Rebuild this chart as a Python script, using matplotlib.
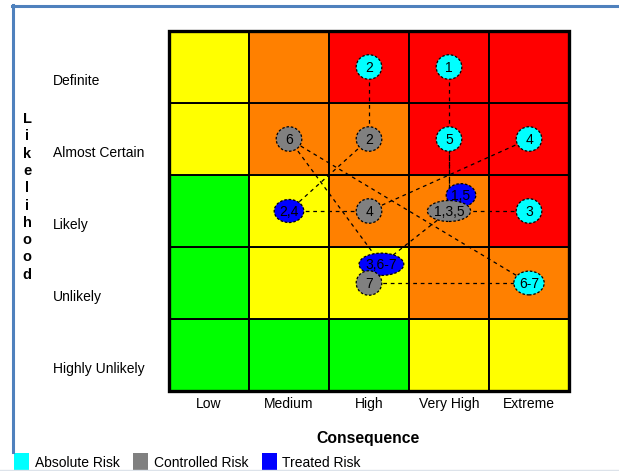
import matplotlib
matplotlib.use("Agg")
import matplotlib.pyplot as plt
from matplotlib.patches import Ellipse, Rectangle

plt.rcParams['font.family'] = ['Liberation Sans', 'DejaVu Sans']

consequence = ["Low", "Medium", "High", "Very High", "Extreme"]
likelihood = ["Highly Unlikely", "Unlikely", "Likely", "Almost Certain", "Definite"]

# rating per cell, rows from Highly Unlikely (bottom) to Definite (top)
grid = [
    ["G", "G", "G", "Y", "Y"],
    ["G", "Y", "Y", "O", "O"],
    ["G", "Y", "O", "O", "R"],
    ["Y", "O", "O", "R", "R"],
    ["Y", "O", "R", "R", "R"],
]
cell_colors = {"G": "#00ff00", "Y": "#ffff00", "O": "#ff8000", "R": "#ff0000"}

# risks: label, consequence index, likelihood index
absolute_lbl = ["2", "1", "5", "4", "3", "6-7"]
absolute_con = [2, 3, 3, 4, 4, 4]
absolute_lik = [4, 4, 3, 3, 2, 1]

controlled_lbl = ["6", "2", "4", "1,3,5", "7"]
controlled_con = [1, 2, 2, 3, 2]
controlled_lik = [3, 3, 2, 2, 1]

treated_lbl = ["2,4", "1,5", "3,6-7"]
treated_con = [1, 3, 2]
treated_lik = [2, 2, 1]

# movements between stages (from label, to label)
abs_to_ctl = [("2", "2"), ("1", "1,3,5"), ("5", "1,3,5"), ("4", "4"),
              ("3", "1,3,5"), ("6-7", "6"), ("6-7", "7")]
ctl_to_trt = [("2", "2,4"), ("4", "2,4"), ("1,3,5", "1,5"), ("1,3,5", "3,6-7"),
              ("6", "3,6-7"), ("7", "3,6-7")]

legend_names = ["Absolute Risk", "Controlled Risk", "Treated Risk"]
series_colors = ["#00ffff", "#808080", "#0000ff"]

W, H = 619, 471
fig = plt.figure(figsize=(W / 100, H / 100), dpi=100)


def fx(px):
    return px / W


def fy(py):
    return 1 - py / H


gx0, gx1, gy0, gy1 = 169, 569, 31, 391
ax = fig.add_axes([fx(gx0), fy(gy1), fx(gx1 - gx0), (gy1 - gy0) / H])
ax.set_xlim(0, 5)
ax.set_ylim(0, 5)
ax.axis("off")

for r, row in enumerate(grid):
    for c, k in enumerate(row):
        ax.add_patch(Rectangle((c, r), 1, 1, facecolor=cell_colors[k],
                               edgecolor="black", lw=1.4, zorder=1))
ax.add_patch(Rectangle((0, 0), 5, 5, fill=False, edgecolor="black", lw=2.4,
                       zorder=6, clip_on=False))

# small nudges so overlapping bubbles in one cell stay readable
nudge = {("trt", "1,5"): (0.15, 0.22), ("trt", "3,6-7"): (0.155, 0.26)}
sizes = {"1,3,5": (0.54, 0.29), "3,6-7": (0.56, 0.31),
         "2,4": (0.37, 0.32), "1,5": (0.37, 0.32), "6-7": (0.38, 0.33)}


def positions(tag, labels, cons, liks):
    pos = {}
    for lbl, c, l in zip(labels, cons, liks):
        dx, dy = nudge.get((tag, lbl), (0, 0))
        pos[lbl] = (c + 0.5 + dx, l + 0.5 + dy)
    return pos


p_abs = positions("abs", absolute_lbl, absolute_con, absolute_lik)
p_ctl = positions("ctl", controlled_lbl, controlled_con, controlled_lik)
p_trt = positions("trt", treated_lbl, treated_con, treated_lik)

for links, pa, pb in [(abs_to_ctl, p_abs, p_ctl), (ctl_to_trt, p_ctl, p_trt)]:
    for a, b in links:
        (x0, y0), (x1, y1) = pa[a], pb[b]
        ax.plot([x0, x1], [y0, y1], color="black", lw=0.9, ls=(0, (3, 3)), zorder=2)


def bubbles(pos, color, z):
    for lbl, (x, y) in pos.items():
        w, h = sizes.get(lbl, (0.32, 0.34))
        ax.add_patch(Ellipse((x, y), w, h, facecolor=color, edgecolor="black",
                             lw=0.9, ls=(0, (2, 1.5)), zorder=z))
        ax.text(x, y - 0.01, lbl, ha="center", va="center", fontsize=10,
                color="black", zorder=10)


bubbles(p_abs, series_colors[0], 3)
bubbles(p_trt, series_colors[2], 4)
bubbles(p_ctl, series_colors[1], 5)

# likelihood labels down the left
for i, name in enumerate(likelihood):
    py = 369 - i * 72
    fig.text(fx(53), fy(py), name, ha="left", va="center", fontsize=10)

for i, name in enumerate(consequence):
    fig.text(fx(209 + i * 80), fy(404), name, ha="center", va="center", fontsize=10)

fig.text(fx(368), fy(438), "Consequence", ha="center", va="center",
         fontsize=11.3, fontweight="bold")
for i, ch in enumerate("Likelihood"):
    fig.text(fx(27), fy(119 + i * 17.3), ch, ha="center", va="center",
             fontsize=10.5, fontweight="bold")

# legend strip along the bottom
leg_sq = [14, 133, 262]
leg_tx = [35, 154, 282]
for sx, tx, name, col in zip(leg_sq, leg_tx, legend_names, series_colors):
    fig.patches.append(Rectangle((fx(sx), fy(470)), fx(15), 17 / H,
                                 facecolor=col, edgecolor="none",
                                 transform=fig.transFigure))
    fig.text(fx(tx), fy(463), name, ha="left", va="center", fontsize=10)

# window frame lines
fig.add_artist(plt.Line2D([fx(12), 1], [fy(5.5), fy(5.5)], color="#4f81bd", lw=2.2))
fig.add_artist(plt.Line2D([fx(13), fx(13)], [fy(5), fy(452)], color="#4f81bd", lw=2.2))
fig.add_artist(plt.Line2D([0, 1], [fy(469.5), fy(469.5)], color="#dde3ea", lw=1))

fig.savefig("out.png", dpi=100)
